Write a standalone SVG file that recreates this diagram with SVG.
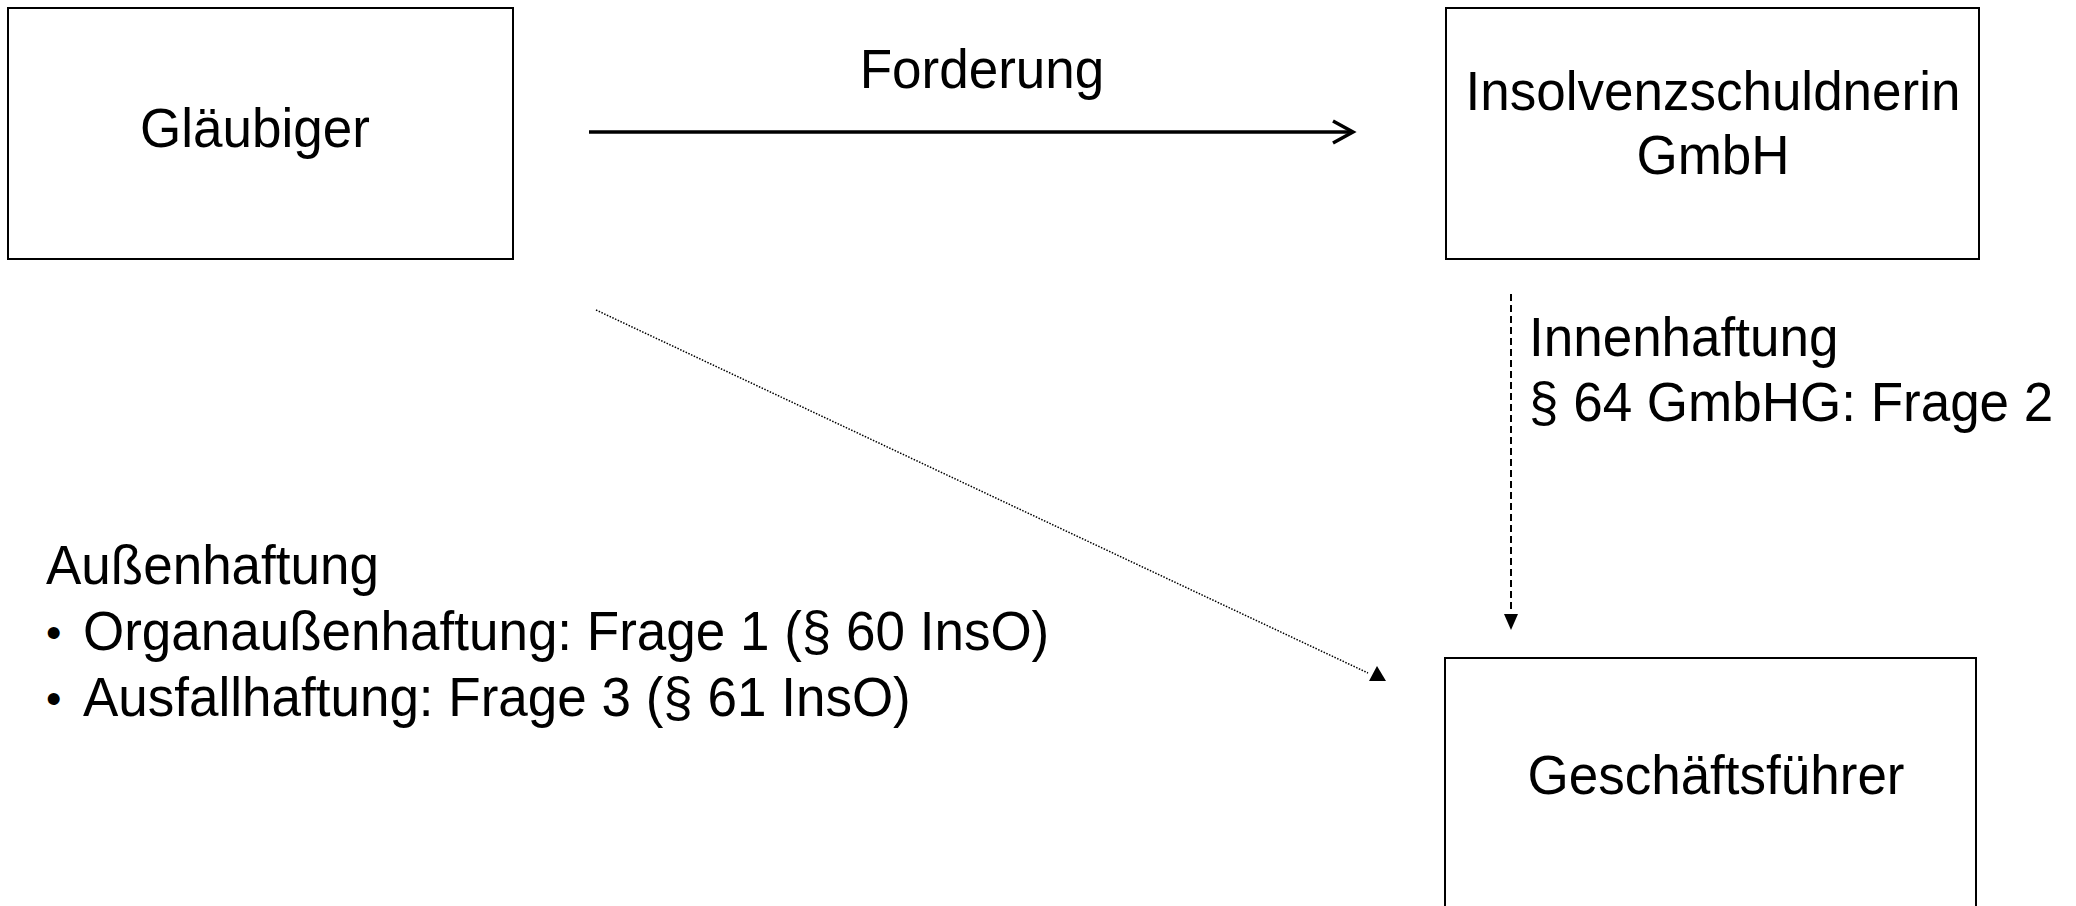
<svg xmlns="http://www.w3.org/2000/svg" width="2076" height="906" viewBox="0 0 2076 906">
<style>
.box{fill:#fff;stroke:#000;stroke-width:2}
.t{font-family:"Liberation Sans",Arial,sans-serif;font-size:53px;fill:#000}
.c{text-anchor:middle}
.b{font-family:"Liberation Sans",Arial,sans-serif;font-size:44px;fill:#000}
</style>
<rect width="2076" height="906" fill="#fff"/>
<g id="glaeubiger">
<rect class="box" x="8" y="8" width="505" height="251"/>
<text class="t c" x="255" y="147" transform="matrix(1 0 0 1.06 0 -8.82)">Gläubiger</text>
</g>
<g id="insolvenzschuldnerin">
<rect class="box" x="1446" y="8" width="533" height="251"/>
<text class="t c" x="1713" y="110" transform="matrix(1 0 0 1.06 0 -6.6)">Insolvenzschuldnerin</text>
<text class="t c" x="1713" y="174" transform="matrix(1 0 0 1.06 0 -10.44)">GmbH</text>
</g>
<g id="geschaeftsfuehrer">
<rect class="box" x="1445" y="658" width="531" height="270"/>
<text class="t c" x="1716" y="794" transform="matrix(1 0 0 1.06 0 -47.64)">Geschäftsführer</text>
</g>
<g id="connectors">
<line x1="589" y1="132" x2="1351" y2="132" stroke="#000" stroke-width="3.5"/>
<polyline points="1333,121 1353,132 1333,143" fill="none" stroke="#000" stroke-width="3.5"/>
<line x1="1511" y1="294" x2="1511" y2="612" stroke="#000" stroke-width="2" stroke-dasharray="7 4"/>
<polygon points="1504,614 1518,614 1511,630" fill="#000"/>
<line x1="596" y1="310" x2="1368" y2="673" stroke="#000" stroke-width="1.5" stroke-dasharray="1.5 1.5"/>
<polygon points="1369,681 1377,666 1386,681" fill="#000"/>
</g>
<g id="labels">
<text class="t c" x="982" y="88" transform="matrix(1 0 0 1.06 0 -5.28)">Forderung</text>
<text class="t" x="1529" y="356" transform="matrix(1 0 0 1.06 0 -21.36)">Innenhaftung</text>
<text class="t" x="1529" y="421" transform="matrix(1 0 0 1.06 0 -25.26)">§ 64 GmbHG: Frage 2</text>
<text class="t" x="46" y="584" transform="matrix(1 0 0 1.06 0 -35.04)">Außenhaftung</text>
<text class="b" x="46" y="648">•</text>
<text class="t" x="83" y="650" transform="matrix(1 0 0 1.06 0 -39)">Organaußenhaftung: Frage 1 (§ 60 InsO)</text>
<text class="b" x="46" y="714">•</text>
<text class="t" x="83" y="716" transform="matrix(1 0 0 1.06 0 -42.96)">Ausfallhaftung: Frage 3 (§ 61 InsO)</text>
</g>
</svg>
